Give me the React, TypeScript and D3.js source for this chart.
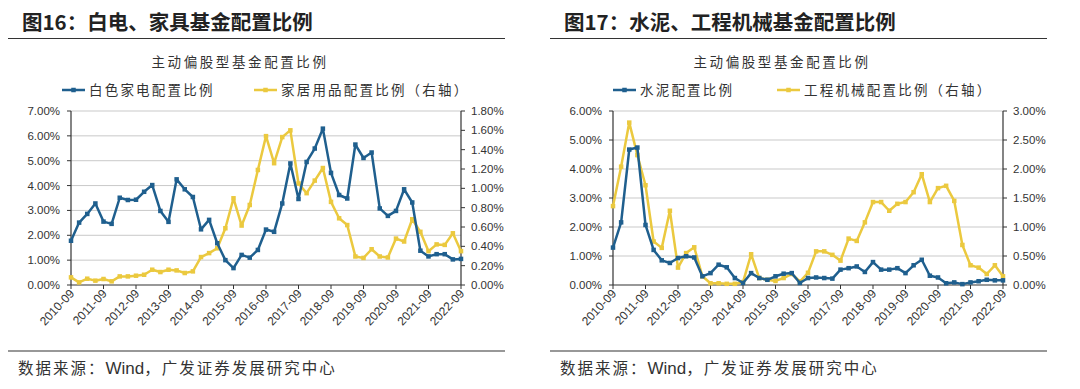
import React from "react";
import * as d3 from "d3";

const yearTicks = ["2010-09","2011-09","2012-09","2013-09","2014-09","2015-09","2016-09","2017-09","2018-09","2019-09","2020-09","2021-09","2022-09"];

// Panel 1 (quarterly 2010-09 .. 2022-09)
const whiteGoods = [1.78,2.51,2.86,3.28,2.55,2.46,3.51,3.42,3.43,3.75,4.02,2.98,2.54,4.25,3.85,3.54,2.24,2.62,1.68,1.0,0.68,1.21,1.1,1.41,2.23,2.14,3.28,4.89,3.46,4.95,5.49,6.29,4.51,3.62,3.48,5.65,5.11,5.33,3.08,2.78,2.98,3.85,3.32,1.38,1.15,1.24,1.24,1.03,1.05];
const homeGoods = [0.079,0.027,0.065,0.045,0.062,0.038,0.089,0.089,0.096,0.106,0.158,0.134,0.158,0.151,0.124,0.141,0.289,0.33,0.38,0.587,0.897,0.615,0.828,1.19,1.54,1.26,1.53,1.6,1.05,0.95,1.08,1.21,0.86,0.69,0.62,0.295,0.28,0.37,0.295,0.285,0.48,0.45,0.68,0.55,0.35,0.42,0.415,0.535,0.35];

// Panel 2
const cement = [1.29,2.16,4.67,4.74,2.07,1.21,0.85,0.76,0.93,0.99,0.95,0.3,0.41,0.7,0.61,0.24,0.07,0.41,0.24,0.18,0.3,0.39,0.41,0.07,0.24,0.26,0.24,0.22,0.53,0.58,0.64,0.45,0.79,0.53,0.53,0.58,0.41,0.68,0.87,0.32,0.26,0.06,0.09,0.03,0.09,0.13,0.18,0.16,0.16];
const machinery = [1.36,2.04,2.8,2.24,1.72,0.75,0.64,1.28,0.3,0.55,0.65,0.15,0.03,0.03,0.02,0.02,0.05,0.53,0.12,0.09,0.07,0.12,0.19,0.06,0.21,0.58,0.58,0.52,0.42,0.8,0.76,1.08,1.43,1.43,1.28,1.4,1.43,1.6,1.91,1.43,1.67,1.71,1.45,0.69,0.34,0.3,0.19,0.34,0.15];

const BLUE = "#1F5F8E";
const YELLOW = "#EBC93F";
const CJK = "'Noto Sans CJK SC', 'Noto Sans', sans-serif";
const LAT = "'Liberation Sans', Arial, sans-serif";

type PanelProps = {
  ox: number;
  title: string;
  leftSeries: number[];
  rightSeries: number[];
  leftMax: number;
  leftStep: number;
  rightMax: number;
  rightStep: number;
  leftName: string;
  rightName: string;
  legend: { bx: number; yx: number };
};

function Panel(p: PanelProps) {
  const x0 = p.ox + 71, x1 = p.ox + 461;
  const top = 111, bottom = 285;
  const x = d3.scaleLinear().domain([0, p.leftSeries.length - 1]).range([x0, x1]);
  const yl = d3.scaleLinear().domain([0, p.leftMax]).range([bottom, top]);
  const yr = d3.scaleLinear().domain([0, p.rightMax]).range([bottom, top]);
  const lt = d3.range(0, p.leftMax + 1e-9, p.leftStep);
  const rt = d3.range(0, p.rightMax + 1e-9, p.rightStep);
  const lineL = d3.line<number>().x((_, i) => x(i)).y((d) => yl(d));
  const lineR = d3.line<number>().x((_, i) => x(i)).y((d) => yr(d));
  const ms = 4.5;
  return (
    <g>
      <text x={p.ox + 22} y={30} fontFamily={CJK} fontWeight={700} fontSize={20.5} fill="#222">{p.title}</text>
      <line x1={p.ox + 8} x2={p.ox + 505} y1={38.5} y2={38.5} stroke="#333" strokeWidth={1.2} />
      <text x={p.ox + 240} y={67} textAnchor="middle" fontFamily={CJK} fontSize={13.5} letterSpacing={2.6} fill="#333">主动偏股型基金配置比例</text>
      {/* legend */}
      <line x1={p.ox + p.legend.bx} x2={p.ox + p.legend.bx + 23} y1={90} y2={90} stroke={BLUE} strokeWidth={2.5} />
      <rect x={p.ox + p.legend.bx + 11.5 - ms / 2} y={90 - ms / 2} width={ms} height={ms} fill={BLUE} />
      <text x={p.ox + p.legend.bx + 27} y={95} fontFamily={CJK} fontSize={13.5} letterSpacing={2.2} fill="#333">{p.leftName}</text>
      <line x1={p.ox + p.legend.yx} x2={p.ox + p.legend.yx + 23} y1={90} y2={90} stroke={YELLOW} strokeWidth={2.5} />
      <rect x={p.ox + p.legend.yx + 11.5 - ms / 2} y={90 - ms / 2} width={ms} height={ms} fill={YELLOW} />
      <text x={p.ox + p.legend.yx + 27} y={95} fontFamily={CJK} fontSize={13.5} letterSpacing={2.2} fill="#333">{p.rightName}</text>
      {/* grid */}
      {lt.map((t) => t > 0 && (
        <line key={"g" + t} x1={x0} x2={x1} y1={yl(t)} y2={yl(t)} stroke="#C9C9C9" strokeWidth={1} />
      ))}
      {/* left axis */}
      <line x1={x0} x2={x0} y1={top} y2={bottom} stroke="#333" strokeWidth={1.2} />
      {lt.map((t) => (
        <g key={"l" + t}>
          <line x1={x0 - 4} x2={x0} y1={yl(t)} y2={yl(t)} stroke="#333" />
          <text x={x0 - 11} y={yl(t) + 4} textAnchor="end" fontFamily={LAT} fontSize={11.5} fill="#333">{t.toFixed(2) + "%"}</text>
        </g>
      ))}
      {/* right axis */}
      <line x1={x1} x2={x1} y1={top} y2={bottom} stroke="#333" strokeWidth={1.2} />
      {rt.map((t) => (
        <g key={"r" + t}>
          <line x1={x1} x2={x1 + 4} y1={yr(t)} y2={yr(t)} stroke="#333" />
          <text x={x1 + 10} y={yr(t) + 4} textAnchor="start" fontFamily={LAT} fontSize={11.5} fill="#333">{t.toFixed(2) + "%"}</text>
        </g>
      ))}
      {/* bottom axis */}
      <line x1={x0} x2={x1} y1={bottom} y2={bottom} stroke="#333" strokeWidth={1.2} />
      {yearTicks.map((lab, k) => {
        const xx = x(k * 4);
        return (
          <g key={lab}>
            <line x1={xx} x2={xx} y1={bottom} y2={bottom + 4} stroke="#333" />
            <text transform={`translate(${xx + 4},${bottom + 9}) rotate(-47)`} textAnchor="end" fontFamily={LAT} fontSize={12} fill="#333">{lab}</text>
          </g>
        );
      })}
      {/* series */}
      <path d={lineR(p.rightSeries) || ""} fill="none" stroke={YELLOW} strokeWidth={2.5} strokeLinejoin="round" />
      {p.rightSeries.map((v, i) => (
        <rect key={"yr" + i} x={x(i) - ms / 2} y={yr(v) - ms / 2} width={ms} height={ms} fill={YELLOW} />
      ))}
      <path d={lineL(p.leftSeries) || ""} fill="none" stroke={BLUE} strokeWidth={2.5} strokeLinejoin="round" />
      {p.leftSeries.map((v, i) => (
        <rect key={"bl" + i} x={x(i) - ms / 2} y={yl(v) - ms / 2} width={ms} height={ms} fill={BLUE} />
      ))}
      {/* footer */}
      <line x1={p.ox + 8} x2={p.ox + 505} y1={351} y2={351} stroke="#333" strokeWidth={1.2} />
      <text x={p.ox + 18} y={374} fontFamily={CJK} fontSize={15.5} letterSpacing={2} fill="#333">数据来源：<tspan fontFamily={LAT} fontSize={17} letterSpacing={0}>Wind</tspan>，广发证券发展研究中心</text>
    </g>
  );
}

export default function App() {
  return (
    <div style={{ position: "absolute", left: 0, top: 0 }}>
      <svg width={1080} height={389} style={{ display: "block", background: "#fff" }}>
        <Panel ox={0} title="图16：白电、家具基金配置比例" leftSeries={whiteGoods} rightSeries={homeGoods}
          leftMax={7} leftStep={1} rightMax={1.8} rightStep={0.2}
          leftName="白色家电配置比例" rightName="家居用品配置比例（右轴）" legend={{ bx: 62, yx: 254 }} />
        <Panel ox={542} title="图17：水泥、工程机械基金配置比例" leftSeries={cement} rightSeries={machinery}
          leftMax={6} leftStep={1} rightMax={3} rightStep={0.5}
          leftName="水泥配置比例" rightName="工程机械配置比例（右轴）" legend={{ bx: 71, yx: 235 }} />
      </svg>
    </div>
  );
}
